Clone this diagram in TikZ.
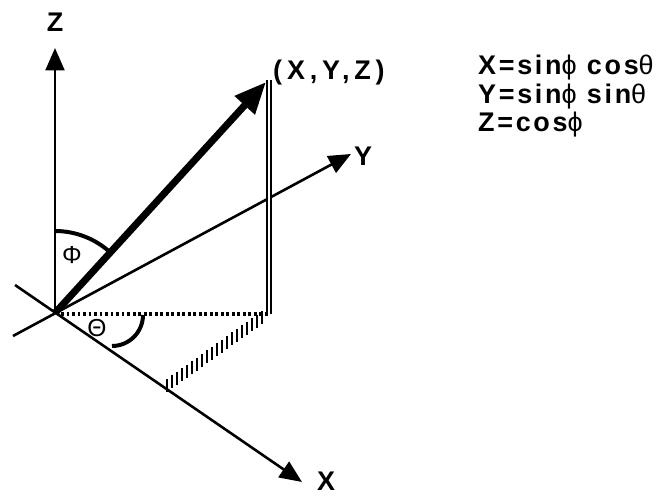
\documentclass[tikz,border=0pt]{standalone}
\usepackage{fontspec}
\setmainfont{Liberation Sans}
\newfontfamily\widefont[LetterSpace=10]{Liberation Sans Bold}
\newfontfamily\spreadfont[LetterSpace=18]{Liberation Sans Bold}
\newfontfamily\grk{Liberation Sans}
\usetikzlibrary{arrows.meta,calc}

\begin{document}
\begin{tikzpicture}[x=0.3mm, y=-0.3mm, >={Triangle[length=19pt, width=16pt]},
  every node/.style={font=\widefont\fontsize{23}{27}\selectfont, inner sep=0pt},
  axisline/.style={line width=2.2pt, ->},
  anglearc/.style={line width=3.4pt},
  greek/.style={font=\grk\fontsize{21}{25}\selectfont}]
  \useasboundingbox (0,0) rectangle (661,497);

  \coordinate (O) at (55,313);
  \coordinate (Zt) at (55,48);
  \coordinate (Xs) at (15,285);
  \coordinate (Xt) at (302,482);
  \coordinate (Ys) at (13,336);
  \coordinate (Yt) at (351,154);
  \coordinate (P) at (266,82);
  \coordinate (Ptop) at (269,80);
  \coordinate (G) at (269,314);
  \coordinate (D) at (61,314);
  \coordinate (H) at (262,318);
  \coordinate (F) at (167,386);

  % axes
  \draw[axisline] (O) -- (Zt);
  \draw[axisline] (Xs) -- (Xt);
  \draw[axisline] (Ys) -- (Yt);

  % projections
  \draw[double, line width=1.1pt, double distance=2.5pt] (Ptop) -- (G);
  \draw[line width=3pt, dash pattern=on 2.5pt off 2.2pt] (D) -- (G);
  \foreach \i in {0,...,19}
    \draw[line width=1.8pt] ($(H)!{\i/19}!(F)$) ++(0,-7) -- ++(0,13);

  % radius vector
  \draw[line width=6pt, -{Triangle[length=27pt, width=22pt]}] (O) -- (P);

  % angles
  \draw[anglearc] (O) ++(-90:82) arc[start angle=-90, end angle=-47.7, radius=82];
  \draw[anglearc] (143,315) arc[start angle=0, end angle=90, radius=31];
  \node[greek] (phi) at (72,255) {Φ};
  \node[greek] (theta) at (97,328) {Θ};

  % labels
  \node (zl) at (55,22) {Z};
  \node (xl) at (326,481) {X};
  \node (yl) at (363,156) {Y};
  \node[anchor=west, font=\spreadfont\fontsize{23}{27}\selectfont] (pl) at (273,73) {(X,Y,Z)};

  \node[anchor=west] (fx) at (478,68) {X=sin{\grk ϕ} cos{\grk θ}};
  \node[anchor=west] (fy) at (478,97) {Y=sin{\grk ϕ} sin{\grk θ}};
  \node[anchor=west] (fz) at (478,125) {Z=cos{\grk ϕ}};
\end{tikzpicture}
\end{document}
